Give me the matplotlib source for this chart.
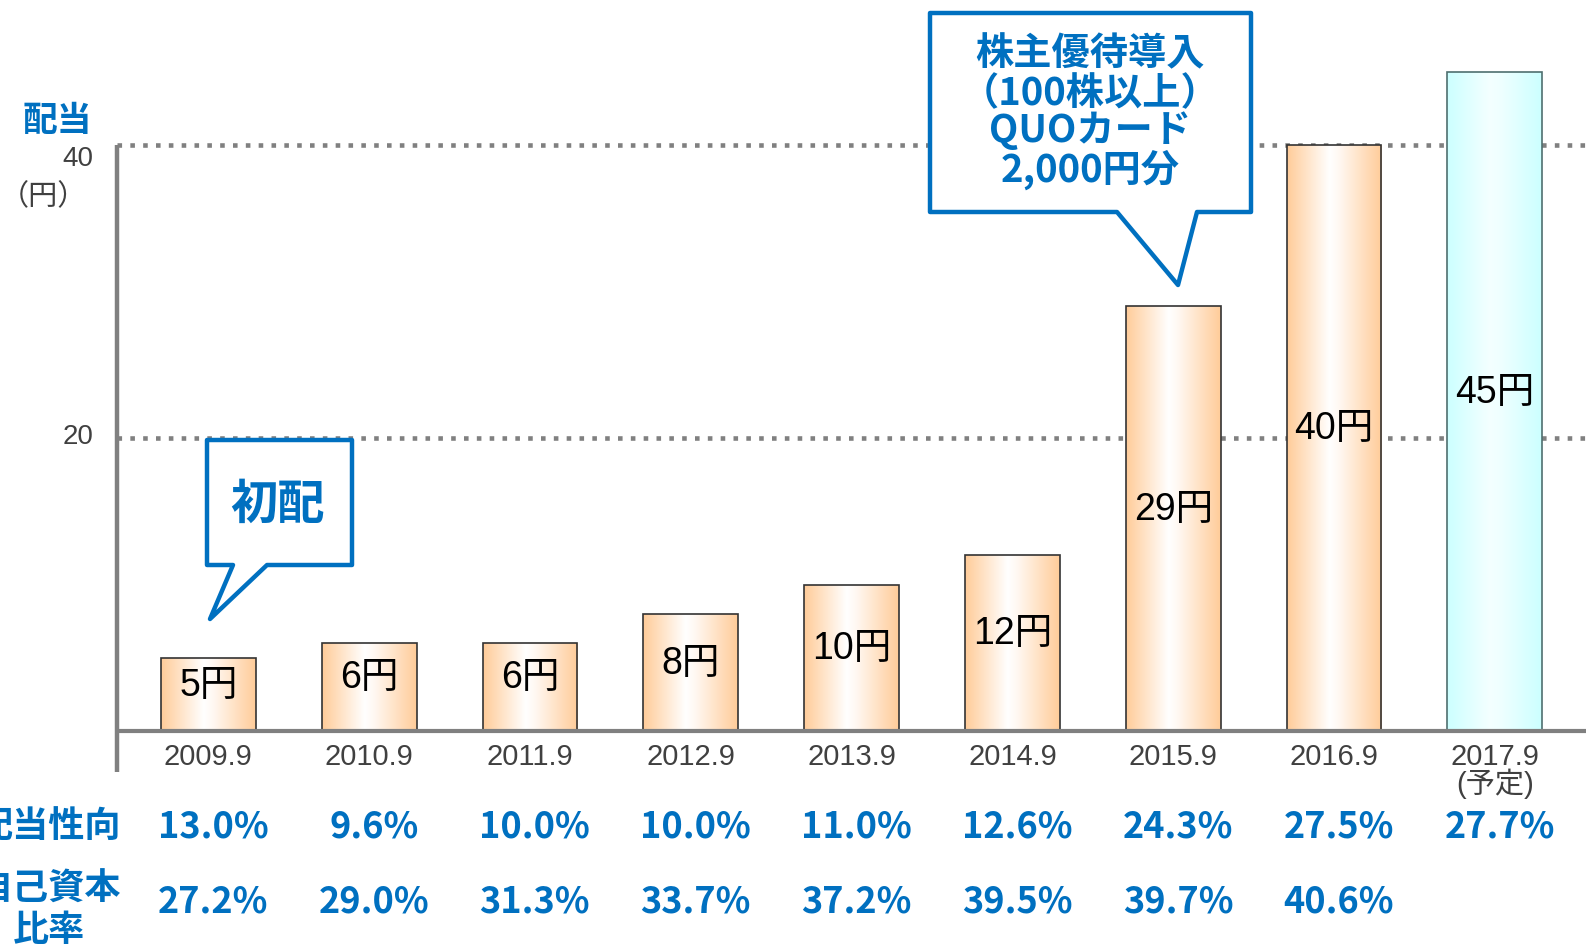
import matplotlib
matplotlib.use('Agg')
import matplotlib.pyplot as plt
import numpy as np
from matplotlib.patches import Polygon
from matplotlib.colors import LinearSegmentedColormap
from matplotlib.transforms import blended_transform_factory

plt.rcParams['font.family'] = ['Liberation Sans', 'Noto Sans CJK JP']

# ── data ─────────────────────────────────────────────────────────────────────
years = ['2009.9', '2010.9', '2011.9', '2012.9', '2013.9',
         '2014.9', '2015.9', '2016.9', '2017.9\n(予定)']
dividend = [5, 6, 6, 8, 10, 12, 29, 40, 45]
payout = ['13.0%', '9.6%', '10.0%', '10.0%', '11.0%',
          '12.6%', '24.3%', '27.5%', '27.7%']
equity = ['27.2%', '29.0%', '31.3%', '33.7%', '37.2%',
          '39.5%', '39.7%', '40.6%', '']
forecast = [False] * 8 + [True]

BLUE = '#0070C0'
GRAY = '#808080'
TXT = '#404040'
JP = 'Noto Sans CJK JP'

W, H = 1586, 950
fig = plt.figure(figsize=(W / 100, H / 100), dpi=100)
fig.patch.set_facecolor('white')

# pixel overlay for annotations and the table under the chart
ov = fig.add_axes([0, 0, 1, 1], zorder=3)
ov.set_xlim(0, W)
ov.set_ylim(H, 0)
ov.axis('off')
ov.patch.set_alpha(0)

# main bar axes
base_px, px_per_unit = 731, 14.65
ax = fig.add_axes([117 / W, (H - base_px) / H, 1 - 117 / W, base_px / H], zorder=2)
ax.patch.set_alpha(0)
x0, x1 = -0.568, 8.567
ax.axis('off')

x = np.arange(len(dividend))
bw = 0.59

# dotted gridlines
for gy in (20, 40):
    ax.plot([x0, x1], [gy, gy], color=GRAY, lw=3.3, ls=(0, (1, 1.8)),
            solid_capstyle='butt', dash_capstyle='butt', zorder=1, clip_on=False)

# bars with horizontal gradient fill
orange = LinearSegmentedColormap.from_list(
    'org', [(0, '#FFCC99'), (0.45, '#FFFFFF'), (0.55, '#FFF8F2'), (1, '#FFCC99')])
cyan = LinearSegmentedColormap.from_list(
    'cyn', [(0, '#CCFFFF'), (0.45, '#F4FFFF'), (0.55, '#F0FFFF'), (1, '#CCFFFF')])
grad = np.linspace(0, 1, 256).reshape(1, -1)

bars = ax.bar(x, dividend, width=bw, facecolor='none',
              edgecolor=['#333333' if not f else '#4F6F6F' for f in forecast],
              linewidth=1.2, zorder=4)
for b, f in zip(bars, forecast):
    im = ax.imshow(grad, cmap=cyan if f else orange, aspect='auto',
                   extent=[b.get_x(), b.get_x() + b.get_width(), 0, b.get_height()],
                   zorder=3, interpolation='bicubic')
    im.set_clip_path(b)
ax.set_xlim(x0, x1)
ax.set_ylim(0, base_px / px_per_unit)

for xi, v in zip(x, dividend):
    ax.text(xi, v / 2 + 0.6, f'{v}円', ha='center', va='center',
            fontsize=27, color='black', zorder=5)

# axis lines
ax.plot([x0, x1], [0, 0], color=GRAY, lw=3, solid_capstyle='butt', zorder=5, clip_on=False)
ax.plot([x0, x0], [-2.8, 40], color=GRAY, lw=3.2, solid_capstyle='butt', zorder=5, clip_on=False)

# y labels
ov.text(57, 120, '配当', ha='center', va='center', fontsize=25,
        color=BLUE, fontweight='bold', family=JP)
ov.text(93, 159, '40', ha='right', va='center', fontsize=20, color=TXT)
ov.text(93, 437, '20', ha='right', va='center', fontsize=20, color=TXT)
ov.text(0, 197, '（円）', ha='left', va='center', fontsize=21, color=TXT,
        family=JP)

# x tick labels and table rows
tr = blended_transform_factory(ax.transData, ov.transData)
for xi, lab in zip(x, years):
    if '\n' in lab:
        ax.text(xi, 743, lab, transform=tr, ha='center', va='top',
                fontsize=21, color=TXT, linespacing=0.92)
    else:
        ax.text(xi, 757, lab, transform=tr, ha='center', va='center',
                fontsize=21, color=TXT)
for xi, p, e in zip(x, payout, equity):
    ax.text(xi + 0.03, 827, p, transform=tr, ha='center', va='center',
            fontsize=26, color=BLUE, fontweight='bold', family=JP)
    if e:
        ax.text(xi + 0.03, 902, e, transform=tr, ha='center', va='center',
                fontsize=26, color=BLUE, fontweight='bold', family=JP)

ov.text(121, 826, '配当性向', ha='right', va='center', fontsize=26,
        color=BLUE, fontweight='bold', family=JP)
ov.text(121, 889, '自己資本', ha='right', va='center', fontsize=26,
        color=BLUE, fontweight='bold', family=JP)
ov.text(49, 931, '比率', ha='center', va='center', fontsize=26,
        color=BLUE, fontweight='bold', family=JP)

# callout: first dividend
c1 = [(207, 440), (352, 440), (352, 565), (267, 565), (210, 619),
      (233, 565), (207, 565)]
ov.add_patch(Polygon(c1, closed=True, facecolor='white', edgecolor=BLUE,
                     lw=3.2, joinstyle='round', zorder=6))
ov.text(277, 505, '初配', ha='center', va='center', fontsize=34,
        color=BLUE, fontweight='bold', family=JP, zorder=7)

# callout: shareholder benefit
c2 = [(930, 13), (1251, 13), (1251, 212), (1197, 212), (1178, 285),
      (1117, 212), (930, 212)]
ov.add_patch(Polygon(c2, closed=True, facecolor='white', edgecolor=BLUE,
                     lw=3.2, joinstyle='round', zorder=6))
for ty, line in zip([54, 94, 131, 170],
                    ['株主優待導入', '（100株以上）', 'QUOカード', '2,000円分']):
    ov.text(1090, ty, line, ha='center', va='center', fontsize=27.5,
            color=BLUE, fontweight='bold', family=JP, zorder=7)

fig.savefig('out.png', dpi=100, facecolor='white')
